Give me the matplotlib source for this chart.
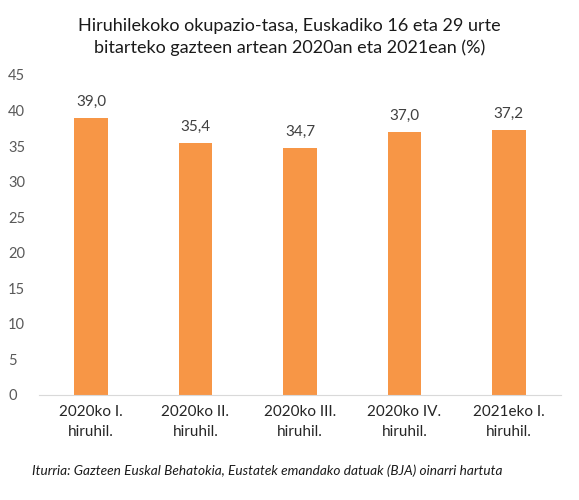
import numpy as np
import matplotlib.pyplot as plt

plt.rc('font', family='Lato')

categories = ["2020ko I.\nhiruhil.", "2020ko II.\nhiruhil.", "2020ko III.\nhiruhil.",
              "2020ko IV.\nhiruhil.", "2021eko I.\nhiruhil."]
values = [39.0, 35.4, 34.7, 37.0, 37.2]
yticks = [0, 5, 10, 15, 20, 25, 30, 35, 40, 45]

fig = plt.figure(figsize=(5.79, 5.0), dpi=100, facecolor="white")
ax = fig.add_axes([0.067, 0.21, 0.902, 0.64])

x = np.arange(len(values))
bars = ax.bar(x, values, width=0.32, color="#F79646")

for xi, v in zip(x, values):
    ax.text(xi, v + 1.3, f"{v:.1f}".replace(".", ","), ha="center", va="bottom",
            fontsize=11, color="#404040")

ax.set_xlim(-0.5, len(values) - 0.5)
ax.set_ylim(0, 45)
ax.set_yticks(yticks)
ax.set_xticks(x)
ax.set_xticklabels(categories, fontsize=11, color="#262626", linespacing=1.55)
ax.tick_params(axis="y", labelsize=10.5, labelcolor="#595959", length=0, pad=22)
ax.tick_params(axis="x", length=0, pad=7)
for lab in ax.get_yticklabels():
    lab.set_horizontalalignment("left")

for s in ["top", "right", "left"]:
    ax.spines[s].set_visible(False)
ax.spines["bottom"].set_color("#D9D9D9")

fig.text(0.5, 0.926, "Hiruhilekoko okupazio-tasa, Euskadiko 16 eta 29 urte\n"
         "bitarteko gazteen artean 2020an eta 2021ean (%)",
         ha="center", va="center", fontsize=13, color="#1a1a1a", linespacing=1.4)

fig.text(0.055, 0.058, "Iturria: Gazteen Euskal Behatokia, Eustatek emandako datuak (BJA) oinarri hartuta",
         ha="left", va="center", fontsize=9.8, style="italic", color="#1a1a1a")

fig.savefig("out.png", dpi=100)
